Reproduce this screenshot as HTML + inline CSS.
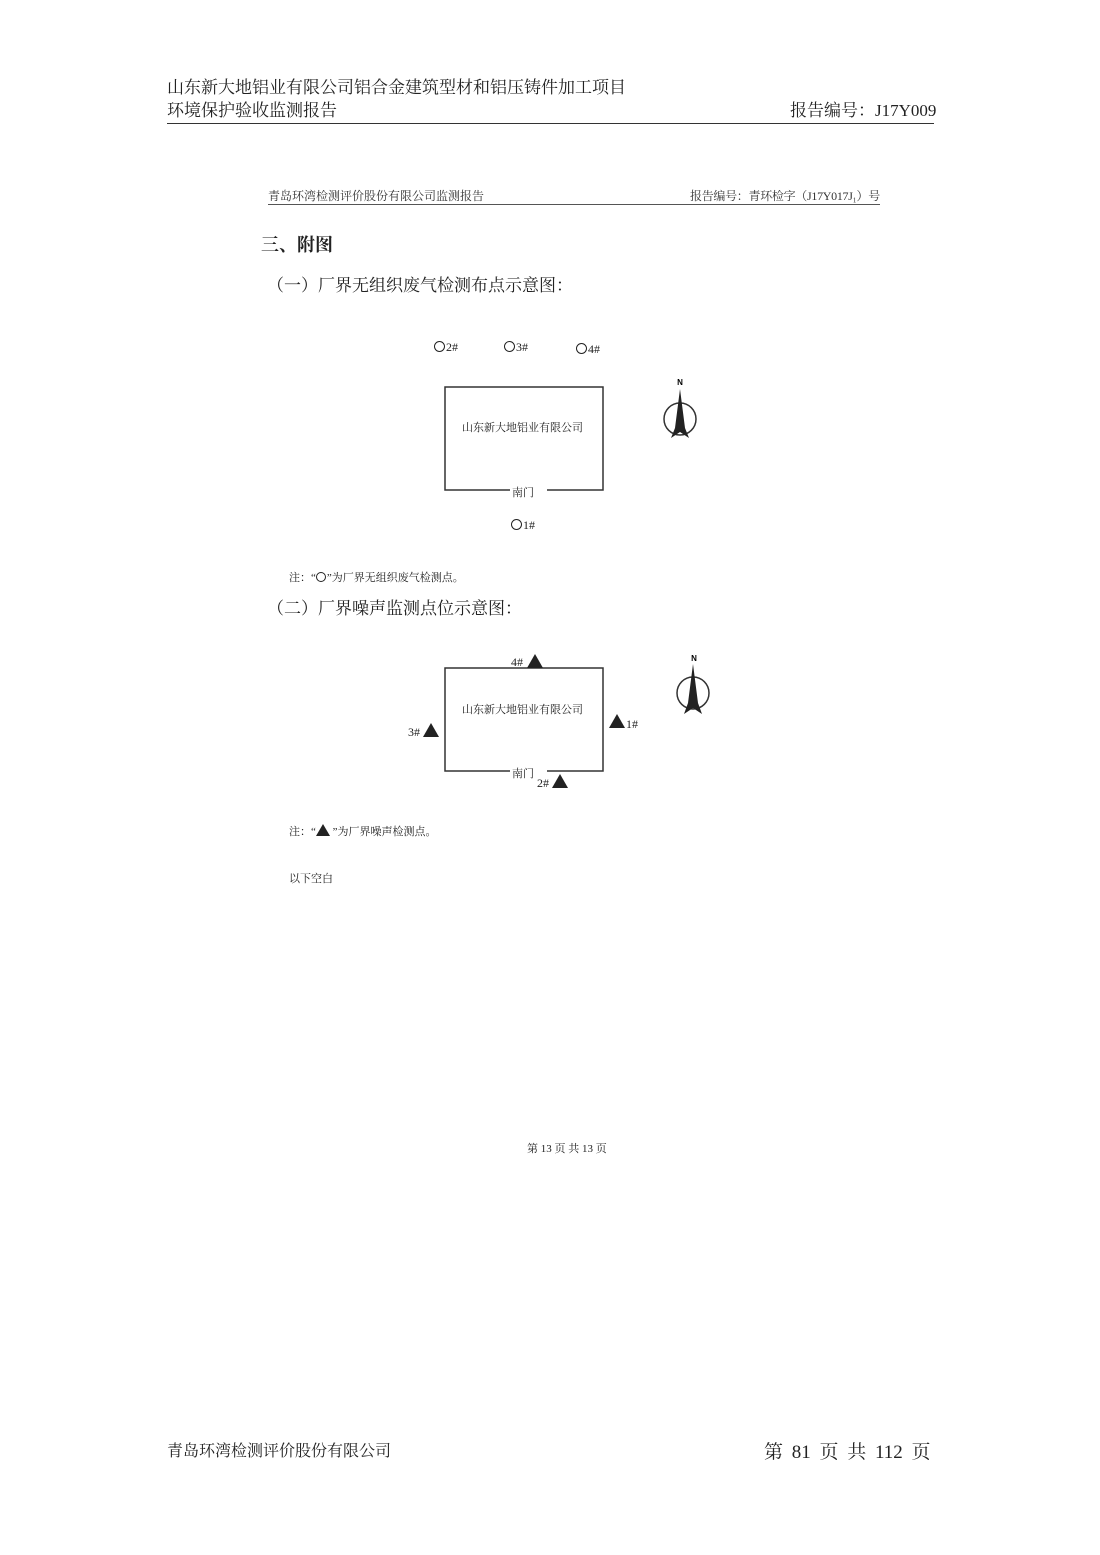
<!DOCTYPE html>
<html><head><meta charset="utf-8"><style>
html,body{margin:0;padding:0;background:#fff;}
body{width:1100px;height:1555px;position:relative;overflow:hidden;font-family:"Liberation Serif","Noto Serif CJK SC",serif;color:#222;}
.t{position:absolute;white-space:nowrap;line-height:1;}
.hl{position:absolute;background:#333;}
.tri{position:absolute;width:0;height:0;border-left:8px solid transparent;border-right:8px solid transparent;border-bottom:14px solid #222;}
.c{display:inline-block;width:9px;height:9px;border:1.2px solid #222;border-radius:50%;margin-right:1px;vertical-align:-1px;}
</style></head><body>
<div class="t" style="left:167px;top:79px;font-size:17px;">山东新大地铝业有限公司铝合金建筑型材和铝压铸件加工项目</div>
<div class="t" style="left:167px;top:102px;font-size:17px;">环境保护验收监测报告</div>
<div class="t" style="left:790px;top:102px;font-size:17px;">报告编号：J17Y009</div>
<div class="hl" style="left:167px;top:123px;width:767px;height:1px;"></div>

<div class="t" style="left:268px;top:190px;font-size:12px;color:#333;">青岛环湾检测评价股份有限公司监测报告</div>
<div class="t" style="left:690px;top:190px;font-size:12px;color:#333;letter-spacing:-0.3px;">报告编号：青环检字（J17Y017J₁）号</div>
<div class="hl" style="left:268px;top:204px;width:612px;height:1px;background:#555;"></div>

<div class="t" style="left:261px;top:236px;font-size:18px;font-weight:bold;">三、附图</div>
<div class="t" style="left:267px;top:277px;font-size:17px;">（一）厂界无组织废气检测布点示意图：</div>

<div class="t" style="left:434px;top:341px;font-size:12px;"><span class="c"></span>2#</div>
<div class="t" style="left:504px;top:341px;font-size:12px;"><span class="c"></span>3#</div>
<div class="t" style="left:576px;top:343px;font-size:12px;"><span class="c"></span>4#</div>

<svg style="position:absolute;left:0;top:0" width="1100" height="1555">
<g fill="none" stroke="#333" stroke-width="1.5">
<polyline points="510,490 445,490 445,387 603,387 603,490 547,490"/>
<polyline points="510,771 445,771 445,668 603,668 603,771 547,771"/>
<circle cx="680" cy="419" r="16"/>
<circle cx="693" cy="693" r="16"/>
</g>
<polygon points="680,389 675,428 671,438 680,432 689,438 685,428" fill="#222"/>
<polygon points="693,664 688,703 684,714 693,708 702,714 698,703" fill="#222"/>
<text x="680" y="385" font-size="8" font-weight="bold" text-anchor="middle" font-family="Liberation Sans">N</text>
<text x="694" y="661" font-size="8" font-weight="bold" text-anchor="middle" font-family="Liberation Sans">N</text>
</svg>

<div class="t" style="left:462px;top:423px;font-size:11px;">山东新大地铝业有限公司</div>
<div class="t" style="left:512px;top:488px;font-size:11px;">南门</div>
<div class="t" style="left:511px;top:519px;font-size:12px;"><span class="c"></span>1#</div>

<div class="t" style="left:289px;top:572px;font-size:11px;">注：“<span class="c" style="width:8px;height:8px;"></span>”为厂界无组织废气检测点。</div>
<div class="t" style="left:267px;top:600px;font-size:17px;">（二）厂界噪声监测点位示意图：</div>

<div class="t" style="left:511px;top:656px;font-size:12px;">4#</div><div class="tri" style="left:527px;top:654px;"></div>
<div class="t" style="left:462px;top:705px;font-size:11px;">山东新大地铝业有限公司</div>
<div class="tri" style="left:609px;top:714px;"></div><div class="t" style="left:626px;top:718px;font-size:12px;">1#</div>
<div class="t" style="left:408px;top:726px;font-size:12px;">3#</div><div class="tri" style="left:423px;top:723px;"></div>
<div class="t" style="left:512px;top:769px;font-size:11px;">南门</div>
<div class="t" style="left:537px;top:777px;font-size:12px;">2#</div><div class="tri" style="left:552px;top:774px;"></div>

<div class="t" style="left:289px;top:824px;font-size:11px;">注：“<span style="display:inline-block;width:0;height:0;border-left:7px solid transparent;border-right:7px solid transparent;border-bottom:12px solid #222;vertical-align:-1px;"></span> ”为厂界噪声检测点。</div>
<div class="t" style="left:289px;top:874px;font-size:11px;">以下空白</div>

<div class="t" style="left:527px;top:1144px;font-size:11px;">第 13 页 共 13 页</div>

<div class="t" style="left:167px;top:1444px;font-size:16px;">青岛环湾检测评价股份有限公司</div>
<div class="t" style="left:764px;top:1443px;font-size:19px;word-spacing:4px;">第 81 页 共 112 页</div>
</body></html>
